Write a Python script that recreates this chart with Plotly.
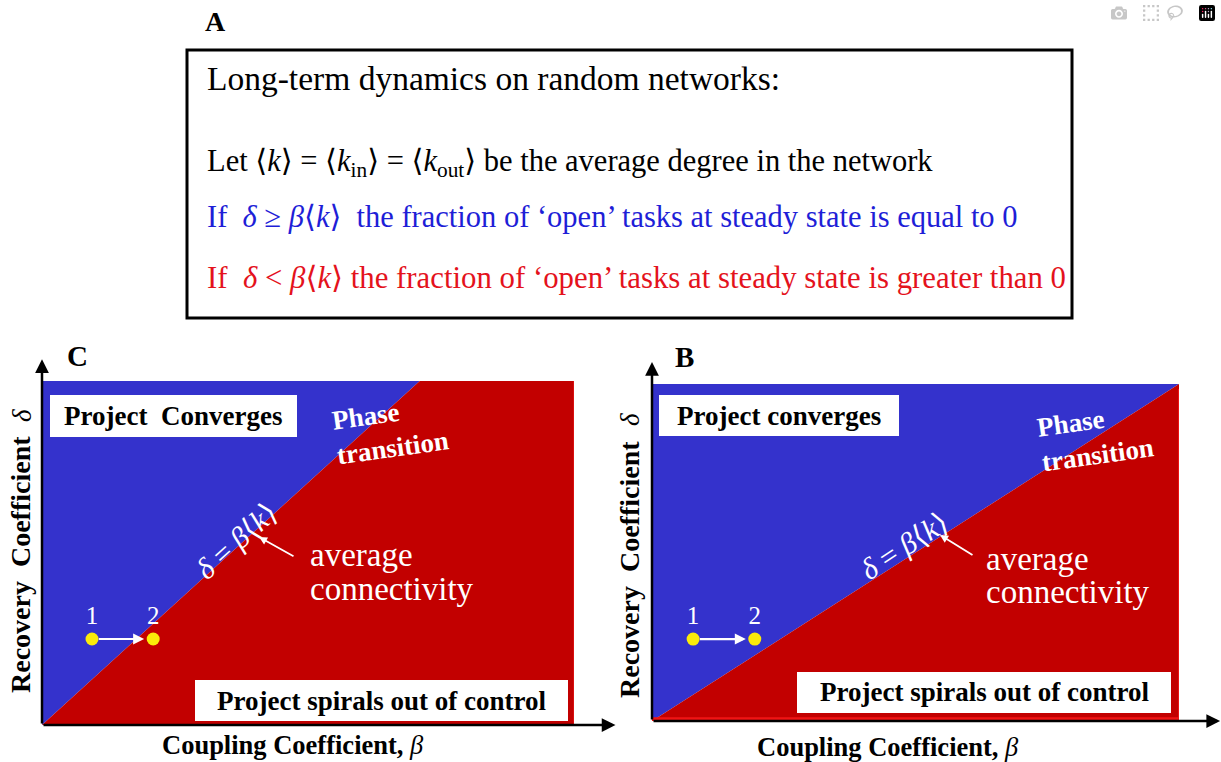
import plotly.graph_objects as go

W, H = 1221, 762

# ---------------- data ----------------
# phase boundary  delta = beta*<k>  : (beta, delta) end points, normalised axes
c_boundary_beta = [0.0, 0.71]
c_boundary_delta = [0.0, 1.0]
b_boundary_beta = [0.0, 1.0]
b_boundary_delta = [0.0, 1.0]
# points 1 -> 2
c_points_beta = [0.094, 0.209]
c_points_delta = [0.25, 0.25]
b_points_beta = [0.078, 0.195]
b_points_delta = [0.243, 0.243]
point_labels = ["1", "2"]

BLUE = "rgb(52,50,204)"
RED = "rgb(194,0,0)"
YELLOW = "rgb(250,235,10)"
TXT_BLUE = "rgb(30,30,215)"
TXT_RED = "rgb(228,18,28)"
FONT = "Liberation Serif"

LA = '<span style="font-family:DejaVu Serif">⟨</span>'
RA = '<span style="font-family:DejaVu Serif">⟩</span>'


def px(x):
    return x / W


def py(y):
    return 1 - y / H


fig = go.Figure()

panels = [
    ("x", "y", c_boundary_beta, c_boundary_delta, c_points_beta, c_points_delta),
    ("x2", "y2", b_boundary_beta, b_boundary_delta, b_points_beta, b_points_delta),
]
for xa, ya, bb, bd, pb, pd in panels:
    top_beta = bb[1]
    fig.add_trace(go.Scatter(x=[0, 0, top_beta, 0], y=[0, 1, bd[1], 0], fill="toself",
                             fillcolor=BLUE, line=dict(width=0), mode="lines",
                             xaxis=xa, yaxis=ya, hoverinfo="skip", showlegend=False))
    fig.add_trace(go.Scatter(x=[0, top_beta, 1, 1, 0], y=[0, bd[1], 1, 0, 0], fill="toself",
                             fillcolor=RED, line=dict(width=0), mode="lines",
                             xaxis=xa, yaxis=ya, hoverinfo="skip", showlegend=False))
    fig.add_trace(go.Scatter(x=pb, y=pd, mode="markers+text", text=point_labels,
                             textposition="top center",
                             textfont=dict(family=FONT, size=25, color="white"),
                             marker=dict(color=YELLOW, size=13),
                             xaxis=xa, yaxis=ya, hoverinfo="skip", showlegend=False))

ax_common = dict(range=[0, 1], visible=False, fixedrange=True)
fig.update_layout(
    width=W, height=H, margin=dict(l=0, r=0, t=0, b=0),
    paper_bgcolor="white", plot_bgcolor="rgba(0,0,0,0)",
    font=dict(family=FONT),
    xaxis=dict(domain=[px(42), px(574)], anchor="y", **ax_common),
    yaxis=dict(domain=[py(725), py(381)], anchor="x", **ax_common),
    xaxis2=dict(domain=[px(652), px(1179)], anchor="y2", **ax_common),
    yaxis2=dict(domain=[py(721), py(384)], anchor="x2", **ax_common),
    showlegend=False,
)

shapes = []
ann = []


def txt(x, y, s, size, color="black", angle=0, xanchor="center", yanchor="middle", align="center"):
    ann.append(dict(x=px(x), y=py(y), xref="paper", yref="paper", text=s, showarrow=False,
                    font=dict(family=FONT, size=size, color=color), textangle=angle,
                    xanchor=xanchor, yanchor=yanchor, align=align))


def box(x0, y0, x1, y1, fill="white", line="white", lw=0):
    shapes.append(dict(type="rect", xref="paper", yref="paper", x0=px(x0), x1=px(x1),
                       y0=py(y1), y1=py(y0), fillcolor=fill,
                       line=dict(color=line, width=lw), layer="above"))


# ---------------- panel A ----------------
txt(215, 22, "<b>A</b>", 28)
box(187, 50, 1072, 318, fill="rgba(0,0,0,0)", line="black", lw=3)
txt(205, 78, "Long-term dynamics on random networks:", 33.5, xanchor="left")
txt(205, 162, f"Let {LA}<i>k</i>{RA} = {LA}<i>k</i><sub>in</sub>{RA} = {LA}<i>k</i><sub>out</sub>{RA} be the average degree in the network",
    30.5, xanchor="left")
txt(205, 217, f"If  <i>δ</i> ≥ <i>β</i>{LA}<i>k</i>{RA}  the fraction of ‘open’ tasks at steady state is equal to 0",
    30.5, color=TXT_BLUE, xanchor="left")
txt(205, 277, f"If  <i>δ</i> < <i>β</i>{LA}<i>k</i>{RA} the fraction of ‘open’ tasks at steady state is greater than 0",
    30.8, color=TXT_RED, xanchor="left")


# ---------------- axis arrows ----------------
def axis_arrows(xa, ya, xtip, ytip):
    for (x, y) in [(xtip, 0), (0, ytip)]:
        ann.append(dict(x=x, y=y, xref=f"{xa} domain", yref=f"{ya} domain",
                        ax=0, ay=0, axref=f"{xa} domain", ayref=f"{ya} domain",
                        text="", showarrow=True, arrowhead=2, arrowsize=1.1,
                        arrowwidth=2.5, arrowcolor="black"))


axis_arrows("x", "y", 1.078, 1.063)
axis_arrows("x2", "y2", 1.078, 1.065)


def point_arrow(xa, ya, pb, pd):
    ann.append(dict(x=pb[1] - 0.017, y=pd[1], xref=xa, yref=ya, ax=pb[0] + 0.01, ay=pd[0],
                    axref=xa, ayref=ya, text="", showarrow=True, arrowhead=2,
                    arrowsize=1.0, arrowwidth=2.2, arrowcolor="white"))


point_arrow("x", "y", c_points_beta, c_points_delta)
point_arrow("x2", "y2", b_points_beta, b_points_delta)

# red rims
shapes.append(dict(type="line", xref="x2", yref="y2", x0=0.0, x1=1, y0=0.005, y1=0.005,
                   line=dict(color="rgb(240,20,20)", width=4), layer="above"))
shapes.append(dict(type="line", xref="x2", yref="y2", x0=1, x1=1, y0=0, y1=0.985,
                   line=dict(color="rgb(235,20,20)", width=2), layer="above"))
shapes.append(dict(type="line", xref="x", yref="y", x0=1, x1=1, y0=0, y1=1,
                   line=dict(color="rgb(225,20,20)", width=1.5), layer="above"))

DK = f"<i>δ</i> = <i>β</i>{LA}<i>k</i>{RA}"

# ---------------- panel C texts ----------------
txt(77, 356, "<b>C</b>", 29)
txt(22, 416, "<i>δ</i>", 27, angle=-90)
txt(20, 565, "<b>Recovery  Coefficient</b>", 28, angle=-90)
txt(293, 745, "<b>Coupling Coefficient,</b> <i>β</i>", 26.5)
box(50, 395, 297, 437)
txt(173, 416, "<b>Project  Converges</b>", 27)
box(195, 680, 568, 721)
txt(381, 701, "<b>Project spirals out of control</b>", 27)
txt(390, 430, "<b>Phase<br>transition</b>", 27, color="white", angle=-8, align="left")
txt(236, 540, DK, 30, color="white", angle=-42)
txt(308, 555, "average", 33, color="white", xanchor="left")
txt(308, 589, "connectivity", 33, color="white", xanchor="left")
ann.append(dict(x=px(259), y=py(537), xref="paper", yref="paper", ax=36, ay=20,
                text="", showarrow=True, arrowhead=2, arrowsize=0.9, arrowwidth=1.8,
                arrowcolor="white"))

# ---------------- panel B texts ----------------
txt(684, 357, "<b>B</b>", 29)
txt(630, 420, "<i>δ</i>", 27, angle=-90)
txt(629, 570, "<b>Recovery  Coefficient</b>", 28, angle=-90)
txt(888, 747, "<b>Coupling Coefficient,</b> <i>β</i>", 26.5)
box(659, 395, 899, 436)
txt(779, 416, "<b>Project converges</b>", 27)
box(797, 672, 1171, 713)
txt(984, 692, "<b>Project spirals out of control</b>", 27)
txt(1095, 437, "<b>Phase<br>transition</b>", 27, color="white", angle=-8, align="left")
txt(904, 545, DK, 30, color="white", angle=-33)
txt(984, 559, "average", 33, color="white", xanchor="left")
txt(984, 592, "connectivity", 33, color="white", xanchor="left")
ann.append(dict(x=px(940), y=py(535), xref="paper", yref="paper", ax=34, ay=21,
                text="", showarrow=True, arrowhead=2, arrowsize=0.9, arrowwidth=1.8,
                arrowcolor="white"))

fig.update_layout(shapes=shapes, annotations=ann)
fig.write_html("out.html", post_script="document.body.style.margin='0';")
